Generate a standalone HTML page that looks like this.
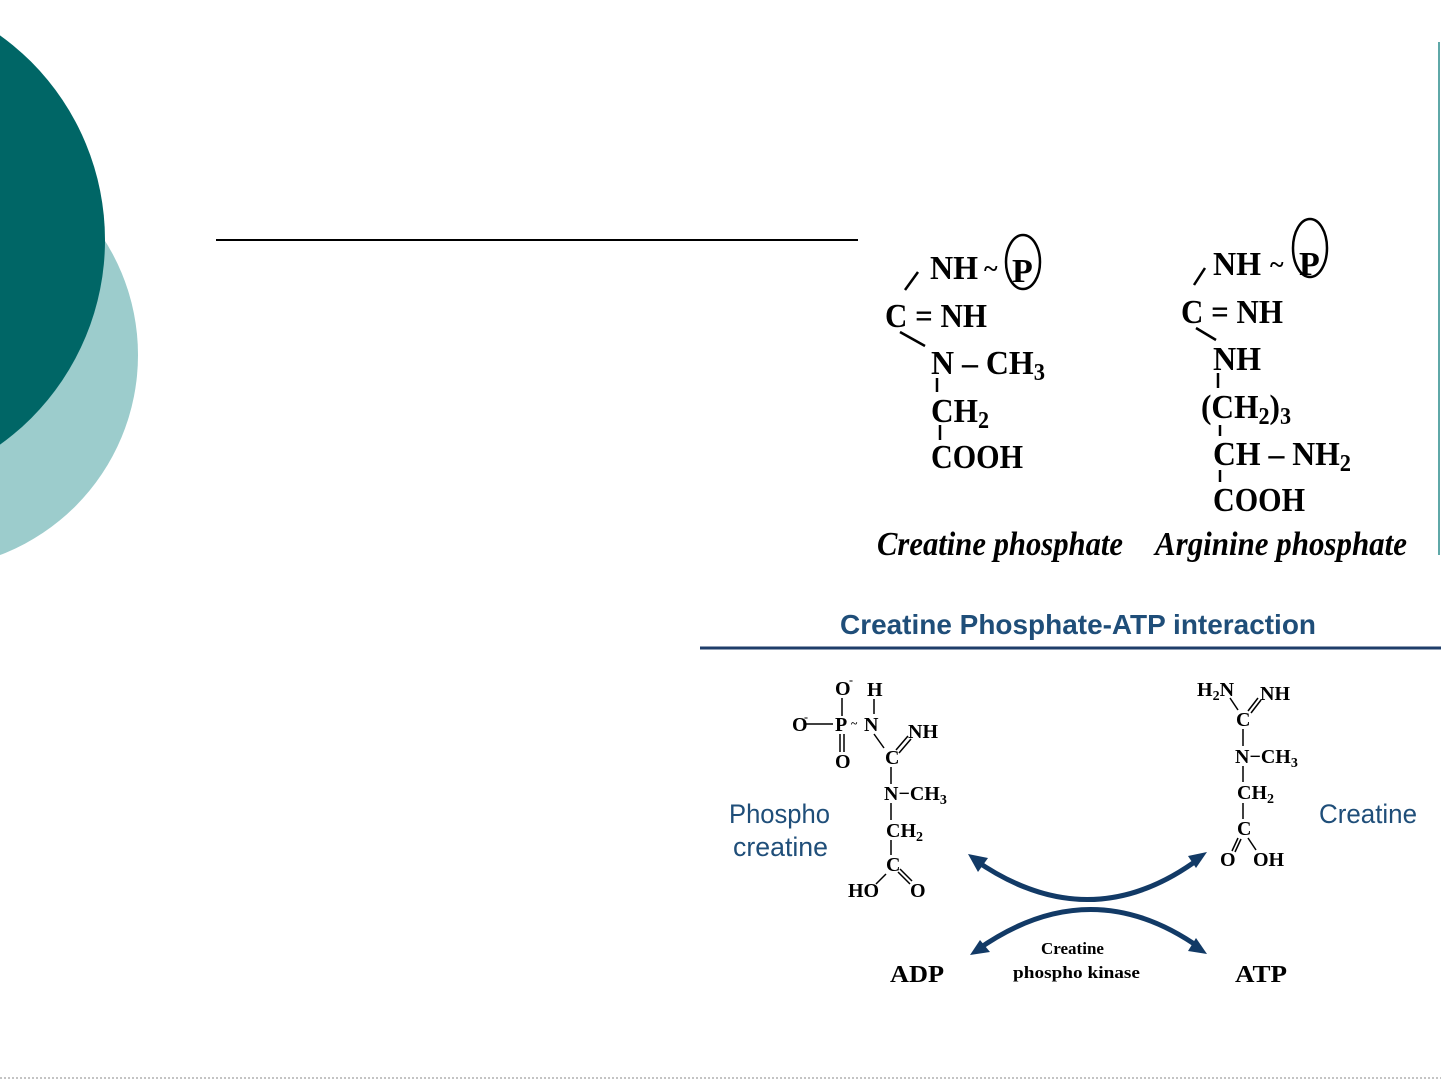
<!DOCTYPE html>
<html><head><meta charset="utf-8"><style>
html,body{margin:0;padding:0;background:#fff;}
svg{display:block;}
.b{font-family:"Liberation Serif",serif;font-weight:bold;fill:#000;}
.s{font-family:"Liberation Sans",sans-serif;fill:#1f4e79;}
</style></head><body>
<svg width="1441" height="1081" viewBox="0 0 1441 1081" xmlns="http://www.w3.org/2000/svg">
<circle cx="-76" cy="355" r="214" fill="#9ccccc"/>
<circle cx="-147" cy="240" r="252" fill="#006666"/>
<line x1="1439" y1="42" x2="1439" y2="555" stroke="#5fa8a8" stroke-width="2"/>
<line x1="0" y1="1078" x2="1441" y2="1078" stroke="#888" stroke-width="1" stroke-dasharray="2,2"/>
<line x1="216" y1="240" x2="858" y2="240" stroke="#000" stroke-width="2"/>

<g class="b" font-size="34">
<text x="930" y="279" textLength="48" lengthAdjust="spacingAndGlyphs">NH</text>
<text x="984" y="277" font-size="26">~</text>
<text x="1012" y="282">P</text>
<text x="885" y="327" textLength="102" lengthAdjust="spacingAndGlyphs">C = NH</text>
<text x="931" y="374" textLength="114" lengthAdjust="spacingAndGlyphs">N – CH<tspan font-size="24" dy="6">3</tspan></text>
<text x="931" y="422" textLength="58" lengthAdjust="spacingAndGlyphs">CH<tspan font-size="24" dy="6">2</tspan></text>
<text x="931" y="468" textLength="92" lengthAdjust="spacingAndGlyphs">COOH</text>
<text x="877" y="555" font-style="italic" textLength="246" lengthAdjust="spacingAndGlyphs">Creatine phosphate</text>
<text x="1213" y="275" textLength="48" lengthAdjust="spacingAndGlyphs">NH</text>
<text x="1270" y="273" font-size="26">~</text>
<text x="1299" y="275">P</text>
<text x="1181" y="323" textLength="102" lengthAdjust="spacingAndGlyphs">C = NH</text>
<text x="1213" y="370" textLength="48" lengthAdjust="spacingAndGlyphs">NH</text>
<text x="1201" y="418" textLength="90" lengthAdjust="spacingAndGlyphs">(CH<tspan font-size="24" dy="6">2</tspan><tspan dy="-6">)</tspan><tspan font-size="24" dy="6">3</tspan></text>
<text x="1213" y="465" textLength="138" lengthAdjust="spacingAndGlyphs">CH – NH<tspan font-size="24" dy="6">2</tspan></text>
<text x="1213" y="511" textLength="92" lengthAdjust="spacingAndGlyphs">COOH</text>
<text x="1155" y="555" font-style="italic" textLength="252" lengthAdjust="spacingAndGlyphs">Arginine phosphate</text>
</g>
<g stroke="#000" stroke-width="2.5" fill="none">
<ellipse cx="1023" cy="262" rx="17" ry="27"/>
<ellipse cx="1310" cy="248" rx="17" ry="29"/>
<line x1="918" y1="272" x2="905" y2="290"/>
<line x1="900" y1="332" x2="925" y2="346"/>
<line x1="937" y1="378" x2="937" y2="392"/>
<line x1="940" y1="425" x2="940" y2="440"/>
<line x1="1205" y1="268" x2="1194" y2="285"/>
<line x1="1196" y1="328" x2="1216" y2="340"/>
<line x1="1218" y1="373" x2="1218" y2="388"/>
<line x1="1220" y1="425" x2="1220" y2="436"/>
<line x1="1220" y1="470" x2="1220" y2="482"/>
</g>

<text class="s" x="840" y="634" font-size="28" font-weight="bold" textLength="476" lengthAdjust="spacingAndGlyphs">Creatine Phosphate-ATP interaction</text>
<line x1="700" y1="648" x2="1441" y2="648" stroke="#1f3e6a" stroke-width="3"/>
<text class="s" x="729" y="823" font-size="27" textLength="101" lengthAdjust="spacingAndGlyphs">Phospho</text>
<text class="s" x="733" y="856" font-size="27" textLength="95" lengthAdjust="spacingAndGlyphs">creatine</text>
<text class="s" x="1319" y="823" font-size="27" textLength="98" lengthAdjust="spacingAndGlyphs">Creatine</text>

<g class="b" font-size="20">
<text x="835" y="695">O</text><text x="849" y="684" font-size="12">-</text>
<text x="867" y="696">H</text>
<text x="792" y="731">O</text><text x="804" y="721" font-size="12">-</text>
<text x="835" y="731">P</text><text x="851" y="727" font-size="12">~</text>
<text x="864" y="731">N</text>
<text x="908" y="738">NH</text>
<text x="835" y="768">O</text>
<text x="885" y="764">C</text>
<text x="884" y="800">N−CH<tspan font-size="14" dy="4">3</tspan></text>
<text x="886" y="837">CH<tspan font-size="14" dy="4">2</tspan></text>
<text x="886" y="871">C</text>
<text x="848" y="897">HO</text>
<text x="910" y="897">O</text>
<text x="1197" y="696">H<tspan font-size="14" dy="4">2</tspan><tspan dy="-4">N</tspan></text>
<text x="1260" y="700">NH</text>
<text x="1236" y="726">C</text>
<text x="1235" y="763">N−CH<tspan font-size="14" dy="4">3</tspan></text>
<text x="1237" y="799">CH<tspan font-size="14" dy="4">2</tspan></text>
<text x="1237" y="835">C</text>
<text x="1220" y="866">O</text>
<text x="1253" y="866">OH</text>
<text x="890" y="982" font-size="24" textLength="54" lengthAdjust="spacingAndGlyphs">ADP</text>
<text x="1235" y="982" font-size="24" textLength="52" lengthAdjust="spacingAndGlyphs">ATP</text>
<text x="1041" y="954" font-size="17">Creatine</text>
<text x="1013" y="978" font-size="17" textLength="127" lengthAdjust="spacingAndGlyphs">phospho kinase</text>
</g>
<g stroke="#000" stroke-width="1.5" fill="none">
<line x1="842" y1="698" x2="842" y2="716"/>
<line x1="874" y1="699" x2="874" y2="714"/>
<line x1="806" y1="724" x2="833" y2="724"/>
<line x1="840" y1="734" x2="840" y2="752"/><line x1="844" y1="734" x2="844" y2="752"/>
<line x1="874" y1="734" x2="884" y2="748"/>
<line x1="896" y1="750" x2="908" y2="736"/><line x1="899" y1="753" x2="911" y2="739"/>
<line x1="891" y1="767" x2="891" y2="784"/>
<line x1="891" y1="803" x2="891" y2="820"/>
<line x1="891" y1="840" x2="891" y2="855"/>
<line x1="886" y1="874" x2="876" y2="884"/>
<line x1="898" y1="872" x2="910" y2="884"/><line x1="900" y1="869" x2="912" y2="881"/>
<line x1="1230" y1="698" x2="1238" y2="710"/>
<line x1="1248" y1="711" x2="1258" y2="698"/><line x1="1251" y1="713" x2="1261" y2="700"/>
<line x1="1243" y1="729" x2="1243" y2="746"/>
<line x1="1243" y1="766" x2="1243" y2="782"/>
<line x1="1243" y1="803" x2="1243" y2="819"/>
<line x1="1238" y1="838" x2="1232" y2="851"/><line x1="1241" y1="839" x2="1235" y2="852"/>
<line x1="1248" y1="838" x2="1256" y2="850"/>
</g>
<g stroke="#123a66" stroke-width="5" fill="none">
<path d="M975 860 Q1090 940 1200 858"/>
<path d="M977 950 Q1090 870 1200 948"/>
</g>
<g fill="#123a66">
<polygon points="968,854 988,858 978,872"/>
<polygon points="1207,852 1196,868 1188,856"/>
<polygon points="970,955 980,940 990,952"/>
<polygon points="1207,954 1188,951 1196,938"/>
</g>
</svg>
</body></html>
